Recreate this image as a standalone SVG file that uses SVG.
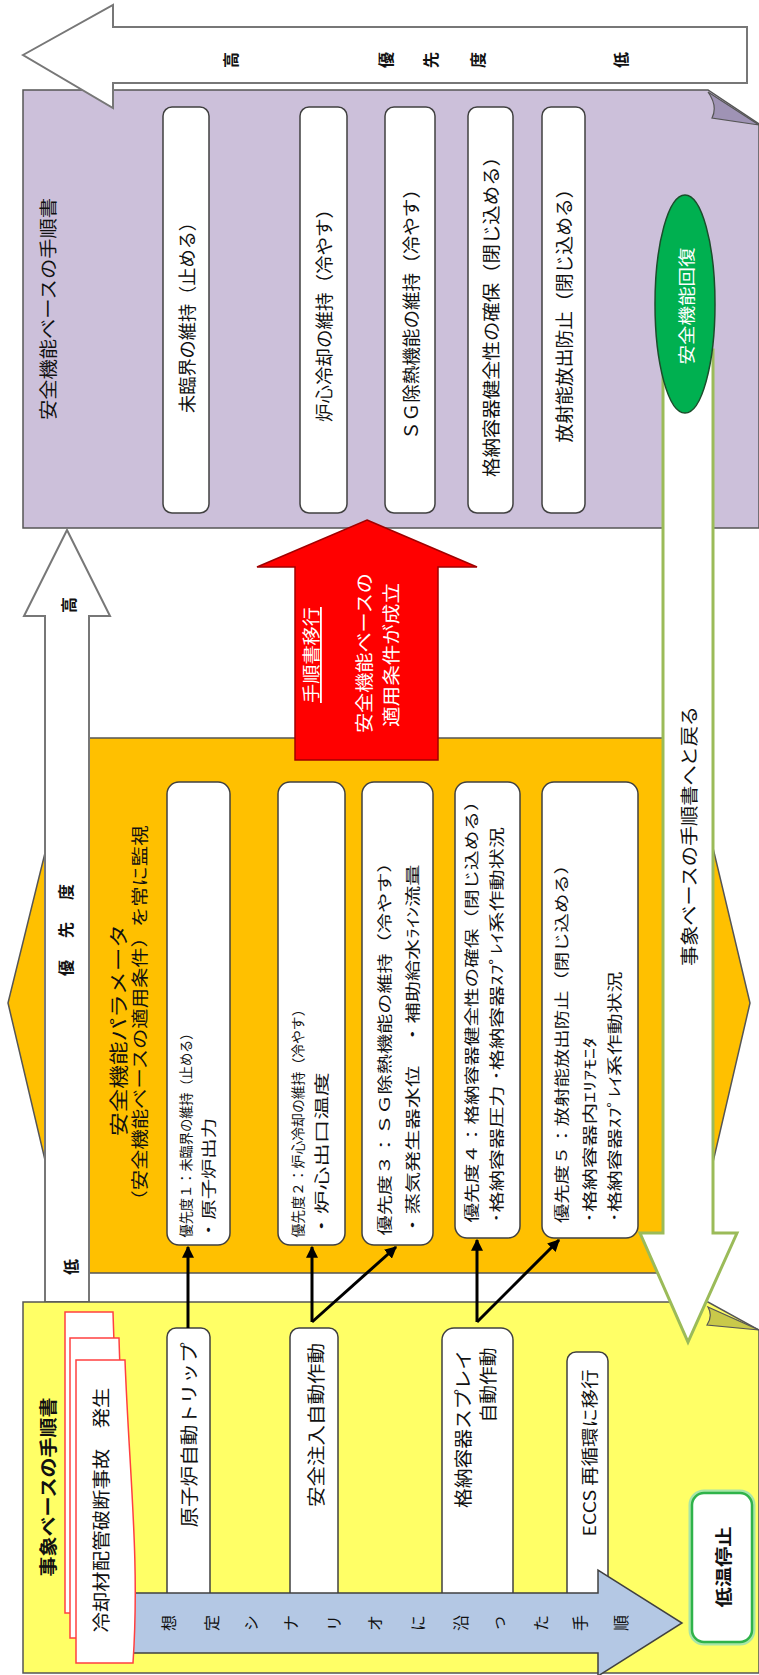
<svg xmlns="http://www.w3.org/2000/svg" width="759" height="1675" viewBox="0 0 759 1675">
<defs>
<style>
.t{font-family:'Noto Sans CJK JP','Noto Sans',sans-serif;fill:#111;dominant-baseline:central;text-anchor:middle}
.w{fill:#fff}
.b{font-weight:bold}
.box{fill:#fff;stroke:#404040;stroke-width:1.5}
.conn{stroke:#000;stroke-width:3;fill:none;marker-end:url(#ah)}
.panel{stroke:#555;stroke-width:1.5}
.ax{fill:#fff;stroke:#777;stroke-width:2}
</style>
<marker id="ah" viewBox="0 0 10 10" refX="9" refY="5" markerWidth="4" markerHeight="4" orient="auto"><path d="M0,0 L10,5 L0,10 z" fill="#000"/></marker>
</defs>
<rect width="759" height="1675" fill="#fff"/>

<g id="orange-panel">
<polygon class="panel" fill="#ffc000" points="45,738 713,738 713,848 750,1003 713,1162 713,1273 45,1273 45,1160 8,1003 45,853"/>
<text class="t" font-size="19" textLength="212" lengthAdjust="spacingAndGlyphs" transform="translate(117,1030) rotate(-90)">安全機能パラメータ</text>
<text class="t" font-size="17" textLength="385" lengthAdjust="spacingAndGlyphs" transform="translate(138,1018) rotate(-90)">（安全機能ベースの適用条件）を常に監視</text>
</g>

<g id="purple-panel">
<polygon class="panel" fill="#ccc0da" points="23,90 708,90 759,124 759,528 23,528"/>
<path d="M708,92 L759,125 L712,118 Q718,106 708,92 Z" fill="#9f93b5" stroke="#555" stroke-width="1.2"/>
<text class="t" font-size="18" textLength="222" lengthAdjust="spacingAndGlyphs" transform="translate(47,309) rotate(-90)">安全機能ベースの手順書</text>
</g>

<g id="priority-top-arrow">
<polygon class="ax" points="23,55 113,5 113,27 747,27 747,83 113,83 113,108"/>
<text class="t b" font-size="16" transform="translate(230,60) rotate(-90)">高</text>
<text class="t b" font-size="16" transform="translate(385,60) rotate(-90)">優</text>
<text class="t b" font-size="16" transform="translate(430,60) rotate(-90)">先</text>
<text class="t b" font-size="16" transform="translate(477,60) rotate(-90)">度</text>
<text class="t b" font-size="16" transform="translate(620,60) rotate(-90)">低</text>
</g>

<g id="sf-box1"><rect class="box" x="163" y="107" width="46" height="406" rx="9"/><text class="t" font-size="18" textLength="200" lengthAdjust="spacingAndGlyphs" transform="translate(186,313) rotate(-90)">未臨界の維持（止める）</text></g>
<g id="sf-box2"><rect class="box" x="300" y="107" width="47" height="406" rx="9"/><text class="t" font-size="18" textLength="222" lengthAdjust="spacingAndGlyphs" transform="translate(323,311) rotate(-90)">炉心冷却の維持（冷やす）</text></g>
<g id="sf-box3"><rect class="box" x="385" y="107" width="50" height="406" rx="9"/><text class="t" font-size="18" textLength="260" lengthAdjust="spacingAndGlyphs" transform="translate(410,310) rotate(-90)">ＳＧ除熱機能の維持（冷やす）</text></g>
<g id="sf-box4"><rect class="box" x="468" y="107" width="45" height="406" rx="9"/><text class="t" font-size="18" textLength="330" lengthAdjust="spacingAndGlyphs" transform="translate(490,312) rotate(-90)">格納容器健全性の確保（閉じ込める）</text></g>
<g id="sf-box5"><rect class="box" x="542" y="107" width="43" height="406" rx="9"/><text class="t" font-size="18" textLength="263" lengthAdjust="spacingAndGlyphs" transform="translate(563,311) rotate(-90)">放射能放出防止（閉じ込める）</text></g>

<g id="priority-left-arrow">
<polygon class="ax" points="67,530 110,616 89,616 89,1302 45,1302 45,616 24,616"/>
<text class="t b" font-size="16" transform="translate(68,605) rotate(-90)">高</text>
<text class="t b" font-size="16" transform="translate(65,968) rotate(-90)">優</text>
<text class="t b" font-size="16" transform="translate(65,930) rotate(-90)">先</text>
<text class="t b" font-size="16" transform="translate(65,892) rotate(-90)">度</text>
<text class="t b" font-size="16" transform="translate(70,1267) rotate(-90)">低</text>
</g>

<g id="transition-arrow">
<polygon points="367,520 477,567 438,567 438,760 295,760 295,567 257,567" fill="#ff0000" stroke="#a00000" stroke-width="1.5"/>
<text class="t w" font-size="18" text-decoration="underline" textLength="96" lengthAdjust="spacingAndGlyphs" transform="translate(310,655) rotate(-90)">手順書移行</text>
<text class="t w" font-size="18" textLength="160" lengthAdjust="spacingAndGlyphs" transform="translate(363,653) rotate(-90)">安全機能ベースの</text>
<text class="t w" font-size="18" textLength="144" lengthAdjust="spacingAndGlyphs" transform="translate(390,655) rotate(-90)">適用条件が成立</text>
</g>

<g id="p-box1"><rect class="box" x="167" y="782" width="63" height="463" rx="12"/>
<text class="t" font-size="13.5" textLength="211" lengthAdjust="spacingAndGlyphs" transform="translate(185,1132) rotate(-90)">優先度１：未臨界の維持（止める）</text>
<text class="t" font-size="15" textLength="122" lengthAdjust="spacingAndGlyphs" transform="translate(207,1179) rotate(-90)">・原子炉出力</text></g>
<g id="p-box2"><rect class="box" x="278" y="782" width="67" height="463" rx="12"/>
<text class="t" font-size="13.5" textLength="235" lengthAdjust="spacingAndGlyphs" transform="translate(297,1120) rotate(-90)">優先度２：炉心冷却の維持（冷やす）</text>
<text class="t" font-size="15" textLength="165" lengthAdjust="spacingAndGlyphs" transform="translate(320,1155) rotate(-90)">・炉心出口温度</text></g>
<g id="p-box3"><rect class="box" x="362" y="782" width="71" height="463" rx="12"/>
<text class="t" font-size="15" textLength="383" lengthAdjust="spacingAndGlyphs" transform="translate(383,1044) rotate(-90)">優先度３：ＳＧ除熱機能の維持（冷やす）</text>
<text class="t" font-size="15" textLength="371" lengthAdjust="spacingAndGlyphs" transform="translate(411,1050) rotate(-90)">・蒸気発生器水位　・補助給水ﾗｲﾝ流量</text></g>
<g id="p-box4"><rect class="box" x="455" y="782" width="65" height="456" rx="12"/>
<text class="t" font-size="15" textLength="431" lengthAdjust="spacingAndGlyphs" transform="translate(470,1007) rotate(-90)">優先度４：格納容器健全性の確保（閉じ込める）</text>
<text class="t" font-size="15" textLength="396" lengthAdjust="spacingAndGlyphs" transform="translate(495,1025) rotate(-90)">･格納容器圧力 ･格納容器ｽﾌﾟﾚｲ系作動状況</text></g>
<g id="p-box5"><rect class="box" x="542" y="782" width="96" height="456" rx="12"/>
<text class="t" font-size="15" textLength="368" lengthAdjust="spacingAndGlyphs" transform="translate(560,1039) rotate(-90)">優先度５：放射能放出防止（閉じ込める）</text>
<text class="t" font-size="15" textLength="186" lengthAdjust="spacingAndGlyphs" transform="translate(588,1130) rotate(-90)">･格納容器内ｴﾘｱﾓﾆﾀ</text>
<text class="t" font-size="15" textLength="251" lengthAdjust="spacingAndGlyphs" transform="translate(613,1097) rotate(-90)">･格納容器ｽﾌﾟﾚｲ系作動状況</text></g>

<g id="yellow-panel">
<polygon class="panel" fill="#ffff66" points="23,1302 708,1302 759,1330 759,1673 23,1673"/>
<path d="M708,1307 L759,1330 L707,1325 Q713,1316 708,1307 Z" fill="#c9c94a" stroke="#555" stroke-width="1.2"/>
<text class="t b" font-size="18" textLength="179" lengthAdjust="spacingAndGlyphs" transform="translate(47,1487) rotate(-90)">事象ベースの手順書</text>
</g>

<g id="ev-box1"><rect class="box" x="167" y="1328" width="43" height="280" rx="9"/><text class="t" font-size="18" textLength="185" lengthAdjust="spacingAndGlyphs" transform="translate(188,1435) rotate(-90)">原子炉自動トリップ</text></g>
<g id="ev-box2"><rect class="box" x="290" y="1328" width="48" height="280" rx="9"/><text class="t" font-size="18" textLength="164" lengthAdjust="spacingAndGlyphs" transform="translate(315,1425) rotate(-90)">安全注入自動作動</text></g>
<g id="ev-box3"><rect class="box" x="442" y="1328" width="71" height="280" rx="12"/>
<text class="t" font-size="18" textLength="158" lengthAdjust="spacingAndGlyphs" transform="translate(462,1429) rotate(-90)">格納容器スプレイ</text>
<text class="t" font-size="18" textLength="75" lengthAdjust="spacingAndGlyphs" transform="translate(487,1385) rotate(-90)">自動作動</text></g>
<g id="ev-box4"><rect class="box" x="567" y="1352" width="41" height="256" rx="9"/><text class="t" font-size="17" textLength="167" lengthAdjust="spacingAndGlyphs" transform="translate(588,1453) rotate(-90)">ECCS 再循環に移行</text></g>

<g id="scenario-arrow">
<polygon points="120,1593 598,1593 598,1570 682,1623 598,1676 598,1653 120,1653" fill="#b4c8e4" stroke="#404040" stroke-width="1.5"/>
<g class="t" font-size="16">
<text class="t" transform="translate(168,1623) rotate(-90)">想</text>
<text class="t" transform="translate(211,1623) rotate(-90)">定</text>
<text class="t" transform="translate(250,1623) rotate(-90)">シ</text>
<text class="t" transform="translate(290,1623) rotate(-90)">ナ</text>
<text class="t" transform="translate(333,1623) rotate(-90)">リ</text>
<text class="t" transform="translate(374,1623) rotate(-90)">オ</text>
<text class="t" transform="translate(417,1623) rotate(-90)">に</text>
<text class="t" transform="translate(460,1623) rotate(-90)">沿</text>
<text class="t" transform="translate(497,1623) rotate(-90)">っ</text>
<text class="t" transform="translate(540,1623) rotate(-90)">た</text>
<text class="t" transform="translate(579,1623) rotate(-90)">手</text>
<text class="t" transform="translate(620,1623) rotate(-90)">順</text>
</g>
</g>

<g id="event-document">
<path d="M65,1312 H113 C116,1410 122,1520 118,1613 H65 Z" fill="#fff" stroke="#ff4040" stroke-width="1.5"/>
<path d="M70,1338 H119 C122,1440 128,1540 124,1638 H70 Z" fill="#fff" stroke="#ff4040" stroke-width="1.5"/>
<path d="M76,1360 H125 C129,1470 140,1560 133,1663 H76 Z" fill="#fff" stroke="#ff4040" stroke-width="1.5"/>
<text class="t" font-size="18" textLength="245" lengthAdjust="spacingAndGlyphs" transform="translate(100,1510) rotate(-90)">冷却材配管破断事故　発生</text>
</g>

<g id="return-arrow">
<polygon points="663,350 713,350 713,1233 737,1233 688,1342 640,1233 663,1233" fill="#fff" stroke="#9bbb59" stroke-width="3"/>
<text class="t" font-size="18" textLength="260" lengthAdjust="spacingAndGlyphs" transform="translate(688,836) rotate(-90)">事象ベースの手順書へと戻る</text>
</g>

<g id="recovery">
<ellipse cx="685" cy="304" rx="30" ry="109" fill="#00b050" stroke="#1b4d2b" stroke-width="1.5"/>
<text class="t w" font-size="17" textLength="117" lengthAdjust="spacingAndGlyphs" transform="translate(685,306) rotate(-90)">安全機能回復</text>
</g>

<g id="cold-shutdown">
<rect x="692" y="1493" width="60" height="149" rx="12" fill="#fff" stroke="#a8e6a8" stroke-width="7"/>
<rect x="692" y="1493" width="60" height="149" rx="12" fill="#fff" stroke="#2fb34a" stroke-width="2.5"/>
<text class="t b" font-size="17" textLength="81" lengthAdjust="spacingAndGlyphs" transform="translate(722,1567) rotate(-90)">低温停止</text>
</g>

<g id="connectors">
<line class="conn" x1="188" y1="1328" x2="188" y2="1247"/>
<line class="conn" x1="312" y1="1322" x2="312" y2="1247"/>
<line class="conn" x1="312" y1="1322" x2="396" y2="1247"/>
<line class="conn" x1="477" y1="1322" x2="477" y2="1240"/>
<line class="conn" x1="477" y1="1322" x2="559" y2="1240"/>
</g>
</svg>
